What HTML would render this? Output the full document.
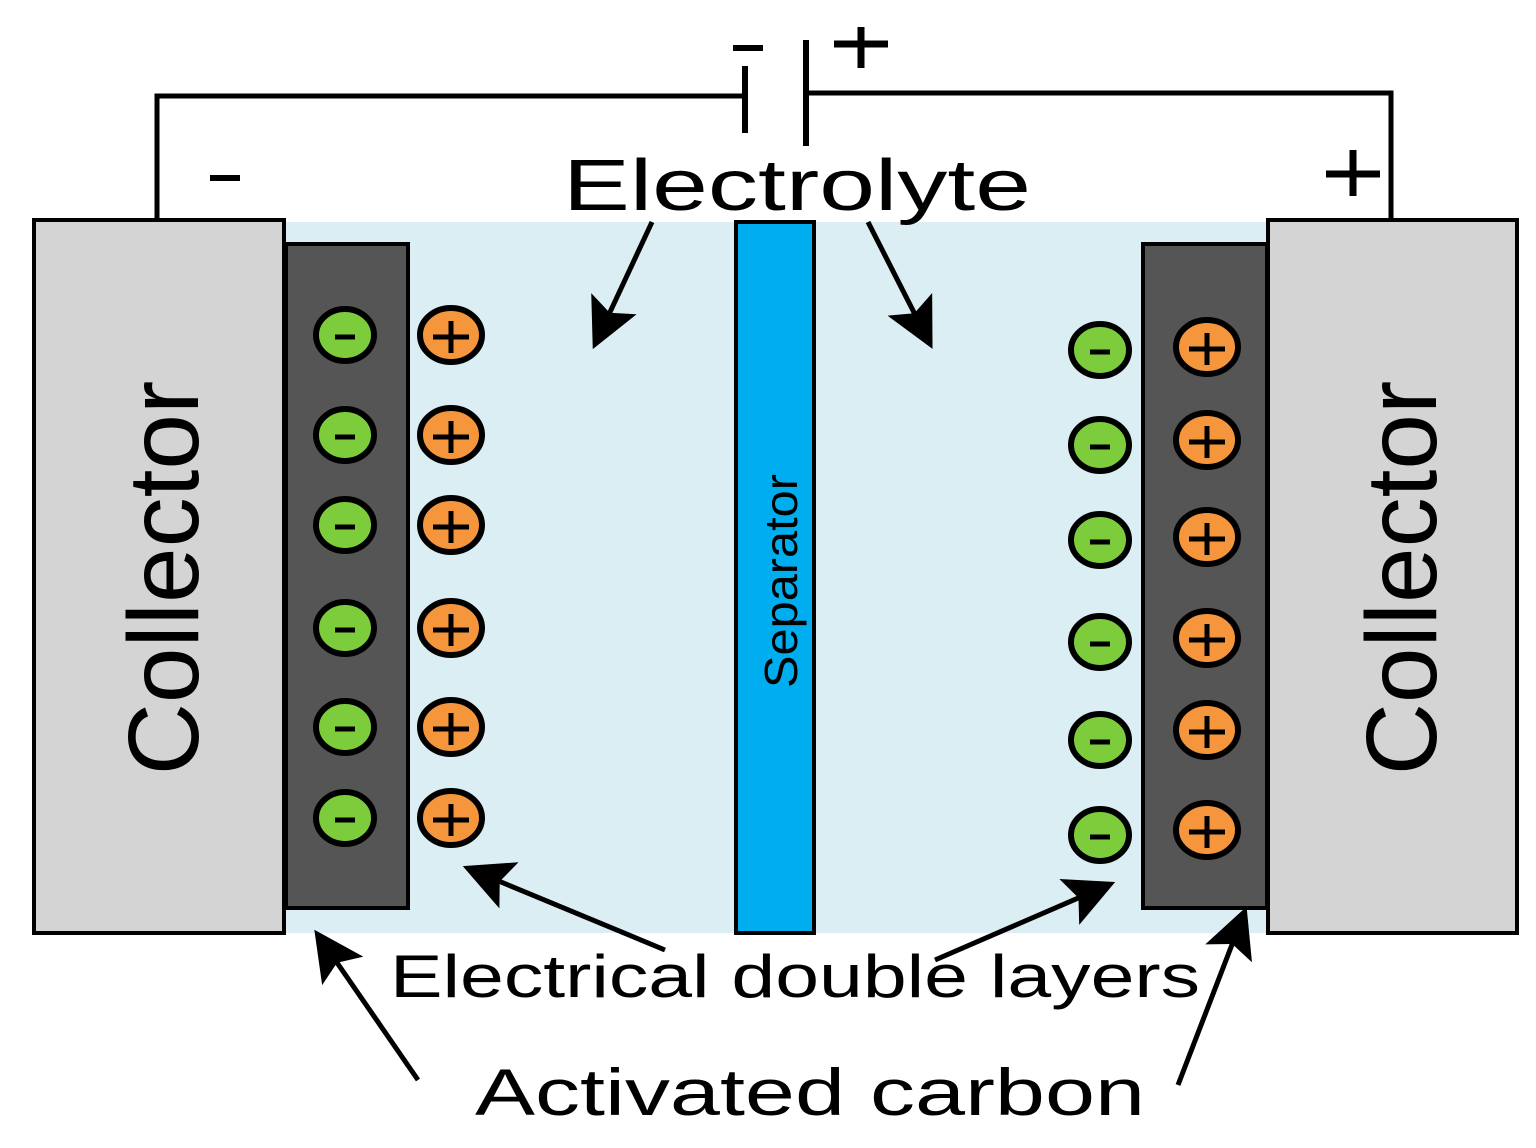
<!DOCTYPE html>
<html><head><style>body{margin:0;background:#fff}svg{display:block}</style></head><body>
<svg width="1536" height="1148" viewBox="0 0 1536 1148" xmlns="http://www.w3.org/2000/svg" font-family="Liberation Sans, DejaVu Sans, sans-serif">
<defs><marker id="a" markerWidth="10" markerHeight="10" refX="8" refY="5" orient="auto" markerUnits="strokeWidth"><path d="M0,0 L10,5 L0,10 L2,5 Z" fill="#000"/></marker></defs>
<rect x="284" y="222" width="984" height="711" fill="#dbeef4"/>
<rect x="34" y="220" width="250" height="713" fill="#d4d4d4" stroke="#000" stroke-width="4"/>
<rect x="1268" y="220" width="249" height="713" fill="#d4d4d4" stroke="#000" stroke-width="4"/>
<rect x="286" y="244" width="122" height="664" fill="#555" stroke="#000" stroke-width="4"/>
<rect x="1143" y="244" width="124" height="664" fill="#555" stroke="#000" stroke-width="4"/>
<rect x="736" y="222" width="78" height="711" fill="#00aeef" stroke="#000" stroke-width="4"/>
<polyline points="157,218 157,96 745,96" fill="none" stroke="#000" stroke-width="5"/>
<polyline points="806,93 1391,93 1391,218" fill="none" stroke="#000" stroke-width="5"/>
<line x1="745" y1="66" x2="745" y2="133" stroke="#000" stroke-width="6"/>
<line x1="806" y1="40" x2="806" y2="146" stroke="#000" stroke-width="6"/>
<line x1="733" y1="48" x2="763" y2="48" stroke="#000" stroke-width="6"/>
<line x1="834" y1="44" x2="888" y2="44" stroke="#000" stroke-width="7"/>
<line x1="861" y1="27" x2="861" y2="68" stroke="#000" stroke-width="7"/>
<line x1="210" y1="178" x2="240" y2="178" stroke="#000" stroke-width="6"/>
<line x1="1326" y1="174" x2="1380" y2="174" stroke="#000" stroke-width="7"/>
<line x1="1353" y1="150" x2="1353" y2="196" stroke="#000" stroke-width="7"/>
<g stroke="#000" stroke-width="6">
<g fill="#7ccc3c">
<ellipse cx="345" cy="335" rx="29" ry="26"/><ellipse cx="345" cy="435" rx="29" ry="26"/><ellipse cx="345" cy="525" rx="29" ry="26"/><ellipse cx="345" cy="628" rx="29" ry="26"/><ellipse cx="345" cy="727" rx="29" ry="26"/><ellipse cx="345" cy="818" rx="29" ry="26"/>
<ellipse cx="1100" cy="350" rx="29" ry="26"/><ellipse cx="1100" cy="445" rx="29" ry="26"/><ellipse cx="1100" cy="540" rx="29" ry="26"/><ellipse cx="1100" cy="642" rx="29" ry="26"/><ellipse cx="1100" cy="740" rx="29" ry="26"/><ellipse cx="1100" cy="835" rx="29" ry="26"/>
</g>
<g fill="#f5963c">
<ellipse cx="451" cy="335" rx="31" ry="27"/><ellipse cx="451" cy="435" rx="31" ry="27"/><ellipse cx="451" cy="525" rx="31" ry="27"/><ellipse cx="451" cy="628" rx="31" ry="27"/><ellipse cx="451" cy="727" rx="31" ry="27"/><ellipse cx="451" cy="818" rx="31" ry="27"/>
<ellipse cx="1207" cy="347" rx="31" ry="27"/><ellipse cx="1207" cy="440" rx="31" ry="27"/><ellipse cx="1207" cy="537" rx="31" ry="27"/><ellipse cx="1207" cy="638" rx="31" ry="27"/><ellipse cx="1207" cy="730" rx="31" ry="27"/><ellipse cx="1207" cy="830" rx="31" ry="27"/>
</g>
</g>
<g stroke="#000" stroke-width="5">
<path d="M335 337h20M335 437h20M335 527h20M335 630h20M335 729h20M335 820h20M1090 352h20M1090 447h20M1090 542h20M1090 644h20M1090 742h20M1090 837h20"/>
<path d="M433 337h36M451 321v32M433 437h36M451 421v32M433 527h36M451 511v32M433 630h36M451 614v32M433 729h36M451 713v32M433 820h36M451 804v32"/>
<path d="M1189 349h36M1207 333v32M1189 442h36M1207 426v32M1189 539h36M1207 523v32M1189 640h36M1207 624v32M1189 732h36M1207 716v32M1189 832h36M1207 816v32"/>
</g>
<g stroke="#000" stroke-width="5" marker-end="url(#a)">
<line x1="652" y1="222" x2="597" y2="340"/>
<line x1="868" y1="222" x2="928" y2="340"/>
<line x1="665" y1="950" x2="472" y2="870"/>
<line x1="935" y1="960" x2="1106" y2="886"/>
<line x1="418" y1="1080" x2="320" y2="938"/>
<line x1="1178" y1="1085" x2="1243" y2="916"/>
</g>
<text x="563" y="210" font-size="72" textLength="468" lengthAdjust="spacingAndGlyphs">Electrolyte</text>
<text x="390" y="997" font-size="60" textLength="810" lengthAdjust="spacingAndGlyphs">Electrical double layers</text>
<text x="475" y="1115" font-size="66" textLength="670" lengthAdjust="spacingAndGlyphs">Activated carbon</text>
<text transform="translate(198,578) rotate(-90)" font-size="100" text-anchor="middle">Collector</text>
<text transform="translate(1436,578) rotate(-90)" font-size="100" text-anchor="middle">Collector</text>
<text transform="translate(797,688) rotate(-90)" font-size="46" textLength="214" lengthAdjust="spacingAndGlyphs">Separator</text>
</svg>
</body></html>
